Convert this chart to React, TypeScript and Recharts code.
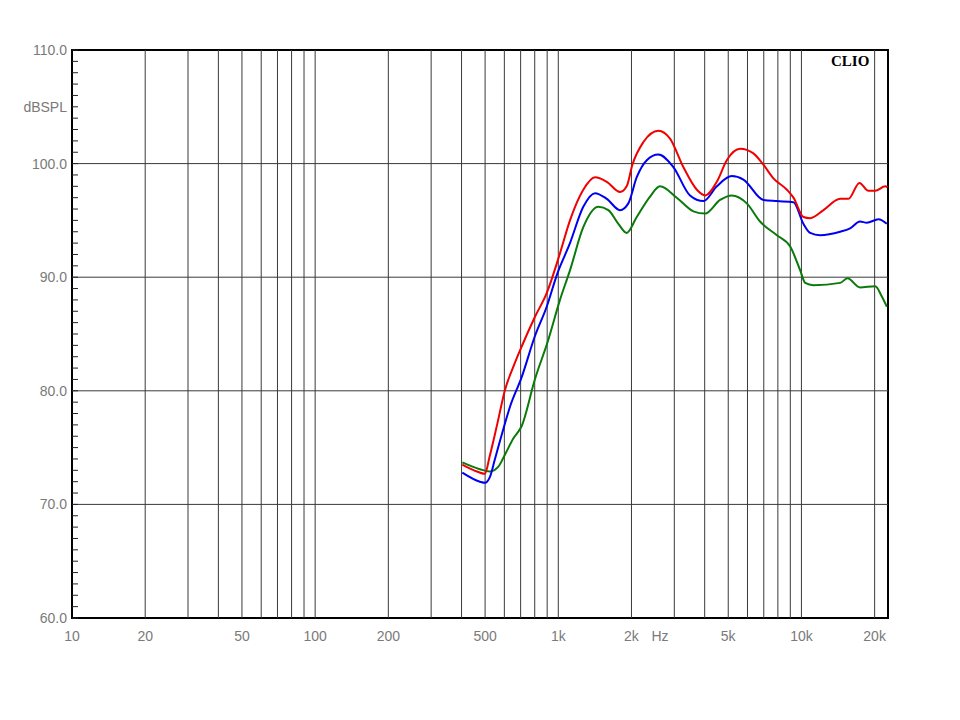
import React from 'react';
import {
  LineChart,
  Line,
  XAxis,
  YAxis,
  ReferenceLine,
  ReferenceArea,
} from 'recharts';

// frequency response readings (Hz / dB SPL)
const redHz = [403, 450, 499, 523, 560, 604, 653, 707, 801, 896, 1016, 1117, 1267, 1416, 1583, 1795, 1911, 2017, 2239, 2580, 2881, 3268, 3715, 4017, 4487, 4932, 5598, 6345, 6975, 7670, 8712, 9272, 10190, 10860, 12320, 14430, 15600, 17320, 18860, 20100, 22120, 22600];
const redDb = [73.5, 73.0, 72.7, 74.3, 77.0, 80.1, 82.1, 83.9, 86.5, 88.6, 92.1, 95.0, 97.7, 98.8, 98.4, 97.5, 98.0, 99.9, 101.9, 102.9, 102.2, 99.7, 97.7, 97.2, 98.4, 100.3, 101.3, 100.9, 99.9, 98.7, 97.7, 97.0, 95.3, 95.2, 95.9, 96.9, 96.9, 98.3, 97.6, 97.6, 98.0, 97.9];

const blueHz = [403, 476, 499, 523, 549, 590, 633, 707, 801, 896, 990, 1117, 1267, 1416, 1583, 1795, 1941, 2102, 2312, 2580, 2973, 3481, 3954, 4487, 5171, 5773, 6975, 7924, 9272, 10190, 10860, 11930, 14430, 15850, 17420, 18570, 20740, 22450];
const blueDb = [72.8, 72.0, 71.9, 72.4, 74.0, 76.4, 78.6, 81.2, 84.8, 87.4, 90.3, 93.0, 96.2, 97.4, 96.9, 95.9, 96.5, 98.8, 100.3, 100.8, 99.7, 97.2, 96.7, 98.0, 98.9, 98.6, 96.8, 96.7, 96.6, 94.7, 93.9, 93.7, 94.0, 94.3, 94.9, 94.8, 95.1, 94.7];

const greenHz = [403, 476, 523, 566, 604, 653, 707, 801, 910, 1016, 1117, 1267, 1461, 1607, 1766, 1911, 2102, 2384, 2620, 3070, 3594, 4017, 4627, 5171, 5962, 6757, 7924, 8992, 9885, 10360, 11200, 14430, 15460, 17420, 20100, 21420, 22450];
const greenDb = [73.7, 73.1, 72.9, 73.3, 74.4, 75.8, 76.9, 81.0, 84.5, 88.0, 90.6, 94.4, 96.2, 95.9, 94.7, 93.9, 95.3, 97.1, 98.0, 97.0, 95.8, 95.6, 96.8, 97.2, 96.5, 94.9, 93.7, 92.7, 90.6, 89.5, 89.3, 89.5, 89.9, 89.1, 89.2, 88.3, 87.4];

const xTicks = [10, 20, 50, 100, 200, 500, 1000, 2000, 2620, 5000, 10000, 20000];
const gridHz = [20, 30, 40, 50, 60, 70, 80, 90, 100, 200, 300, 400, 500, 600, 700, 800, 900, 1000, 2000, 3000, 4000, 5000, 6000, 7000, 8000, 9000, 10000, 20000];
const gridDb = [70, 80, 90, 100];
const dbTicks = Array.from({ length: 51 }, (_, i) => 60 + i);

const toPoints = (hz: number[], db: number[]) => hz.map((f, i) => ({ f, db: db[i] }));
const red = toPoints(redHz, redDb);
const blue = toPoints(blueHz, blueDb);
const green = toPoints(greenHz, greenDb);

const fmtHz = (v: number) => (v === 2620 ? 'Hz' : v >= 1000 ? `${v / 1000}k` : String(v));
const dbLabel = (v: number) => (v === 105 ? 'dBSPL' : v % 10 === 0 ? v.toFixed(1) : '');

const font = '"Liberation Sans", Arial, sans-serif';
const tickStyle = { fill: '#7a7a7a', fontSize: 14, fontFamily: font };

// left axis: label outside + small tick mark pointing into the plot
const LeftTick = (props: any) => {
  const { x, y, payload } = props;
  const axisX = x + 5;
  const label = dbLabel(payload.value);
  return (
    <g>
      <line x1={axisX} x2={axisX + 6} y1={y} y2={y} stroke="#222" />
      {label && (
        <text x={x} y={y} dy="0.355em" textAnchor="end" fill="#7a7a7a" fontSize={14} fontFamily={font}>
          {label}
        </text>
      )}
    </g>
  );
};

const RightTick = (props: any) => {
  const { x, y } = props;
  return <line x1={x - 6} x2={x} y1={y} y2={y} stroke="#222" />;
};

export default function App() {
  return (
    <div style={{ position: 'absolute', left: 0, top: 0, width: 960, height: 720, background: '#fff' }}>
      <LineChart width={960} height={720} margin={{ top: 50, right: 0, bottom: 72, left: 0 }}>
        <XAxis
          dataKey="f"
          type="number"
          scale="log"
          domain={[10, 22700]}
          allowDataOverflow
          ticks={xTicks}
          interval={0}
          tickFormatter={fmtHz}
          tick={tickStyle}
          tickLine={false}
          axisLine={false}
          tickSize={6}
          tickMargin={7}
          height={30}
        />
        <YAxis
          yAxisId="db"
          type="number"
          domain={[60, 110]}
          ticks={dbTicks}
          interval={0}
          tick={<LeftTick />}
          tickLine={false}
          axisLine={false}
          tickSize={3}
          tickMargin={2}
          width={72}
        />
        <YAxis
          yAxisId="right"
          orientation="right"
          type="number"
          domain={[60, 110]}
          ticks={dbTicks}
          interval={0}
          tick={<RightTick />}
          tickLine={false}
          axisLine={false}
          tickSize={0}
          tickMargin={0}
          width={72}
        />

        {gridHz.map((v) => (
          <ReferenceLine key={`v${v}`} x={v} yAxisId="db" stroke="#3a3a3a" strokeWidth={1} />
        ))}
        {gridDb.map((v) => (
          <ReferenceLine key={`h${v}`} y={v} yAxisId="db" stroke="#3a3a3a" strokeWidth={1} />
        ))}

        <Line data={green} dataKey="db" yAxisId="db" type="monotone" stroke="#0a7a0a" strokeWidth={2} dot={false} isAnimationActive={false} />
        <Line data={blue} dataKey="db" yAxisId="db" type="monotone" stroke="#0000f0" strokeWidth={2} dot={false} isAnimationActive={false} />
        <Line data={red} dataKey="db" yAxisId="db" type="monotone" stroke="#f00000" strokeWidth={2} dot={false} isAnimationActive={false} />

        <ReferenceArea x1={10} x2={22700} y1={60} y2={110} yAxisId="db" fill="none" stroke="#000" strokeWidth={2} ifOverflow="visible" />
      </LineChart>
      <div
        style={{
          position: 'absolute',
          left: 831,
          top: 54,
          fontFamily: '"Liberation Serif", "Times New Roman", serif',
          fontWeight: 'bold',
          fontSize: 15,
          lineHeight: '15px',
          color: '#000',
        }}
      >
        CLIO
      </div>
    </div>
  );
}
